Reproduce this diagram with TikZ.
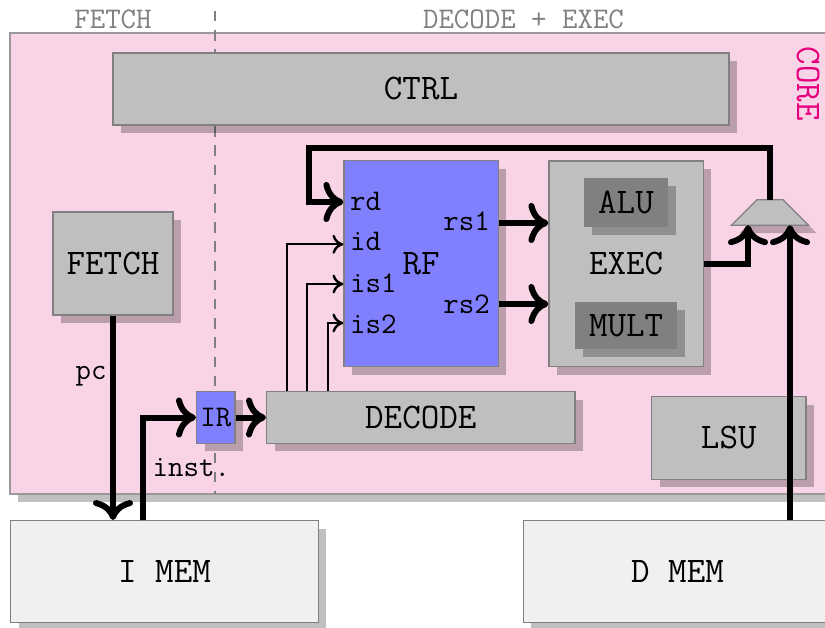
\documentclass[tikz,border=0pt]{standalone}
\usepackage{fontspec}
\usetikzlibrary{shadows,arrows.meta}
\definecolor{corefill}{RGB}{249,212,230}
\definecolor{corelabel}{RGB}{230,0,128}
\definecolor{memfill}{RGB}{240,240,240}
\newcommand\bigfnt{\ttfamily\fontsize{36}{40}\selectfont}
\newcommand\smlfnt{\ttfamily\fontsize{30}{34}\selectfont}
\begin{document}
\begin{tikzpicture}[x=1pt,y=-1pt,
  shd/.style={drop shadow={shadow xshift=8pt,shadow yshift=-8pt,fill=black,opacity=0.25}},
  blk/.style={draw=gray,line width=1.3pt,fill=gray!50,inner sep=0pt,font=\bigfnt,shd,anchor=center},
  lbl/.style={font=\smlfnt,inner sep=0pt},
  bigarr/.style={line width=6pt,-{Computer Modern Rightarrow[length=20pt,width=40pt]}},
  smlarr/.style={line width=2.4pt,-{Computer Modern Rightarrow[length=11pt,width=19pt]}}
]
\useasboundingbox (0,0) rectangle (825,628);
% core
\node[draw=gray!80,line width=1.3pt,fill=corefill,shd,inner sep=0pt,minimum width=822pt,minimum height=461pt] (core) at (421,263.5) {};
\node[text=corelabel,font=\bigfnt,rotate=-90,inner sep=0pt] (corelbl) at (808,84) {CORE};
\node[text=gray,lbl] (hfetch) at (113,19) {FETCH};
\node[text=gray,lbl] (hexec) at (523.5,19) {DECODE + EXEC};
% stage separator
\coordinate (dtop) at (215,11);
\coordinate (dbot) at (215,494);
\draw[gray,line width=2.6pt,dash pattern=on 10.5pt off 8.7pt] (dtop) -- (dbot);
% blocks
\node[blk,minimum width=616pt,minimum height=72pt] (ctrl) at (421,89) {CTRL};
\node[blk,minimum width=120pt,minimum height=103pt] (fetch) at (113,263.5) {FETCH};
\node[blk,fill=blue!50,minimum width=154.3pt,minimum height=206pt] (rf) at (421.2,263.7) {RF};
\node[blk,minimum width=154.3pt,minimum height=205.7pt] (exec) at (626.2,263.8) {EXEC};
\node[blk,draw=none,fill=gray,minimum width=83.4pt,minimum height=48.4pt] (alu) at (626,202.5) {ALU};
\node[blk,draw=none,fill=gray,minimum width=102.3pt,minimum height=47.6pt] (mult) at (626.2,325.5) {MULT};
\node[blk,fill=blue!50,font=\smlfnt,minimum width=38.3pt,minimum height=51.6pt] (ir) at (215.8,417.5) {IR};
\node[blk,minimum width=308.3pt,minimum height=51.6pt] (decode) at (420.8,417.5) {DECODE};
\node[blk,minimum width=154.3pt,minimum height=82.6pt] (lsu) at (728.8,438) {LSU};
\node[blk,fill=memfill,minimum width=307.6pt,minimum height=102pt] (imem) at (164.5,571.7) {I MEM};
\node[blk,fill=memfill,minimum width=308.3pt,minimum height=102pt] (dmem) at (677.5,571.7) {D MEM};
% multiplexer (trapezoid)
\node[inner sep=0pt,minimum width=76.6pt,minimum height=25pt] (mux) at (770,212.5) {};
\draw[draw=gray,line width=1.3pt,fill=gray!50,shd] (mux.south west) -- ([xshift=-13pt]mux.north) -- ([xshift=13pt]mux.north) -- (mux.south east) -- cycle;
% RF port labels
\node[lbl,anchor=base west] (rd) at (350,211) {rd};
\node[lbl,anchor=base west] (id) at (350,251) {id};
\node[lbl,anchor=base west] (is1) at (350,292.7) {is1};
\node[lbl,anchor=base west] (is2) at (350,333.3) {is2};
\node[lbl,anchor=base east] (rs1) at (490,231) {rs1};
\node[lbl,anchor=base east] (rs2) at (490,314) {rs2};
\node[lbl] (pc) at (91,376) {pc};
\node[lbl,anchor=base west] (inst) at (152.5,476.7) {inst.};
% helper coordinates
\coordinate (ipt) at (143.3,0);
\coordinate (dx1) at (287,0);
\coordinate (dx2) at (307,0);
\coordinate (dx3) at (328,0);
\coordinate (yrd) at (0,202);
\coordinate (yid) at (0,244.3);
\coordinate (yis1) at (0,284);
\coordinate (yis2) at (0,323);
\coordinate (yrs1) at (0,223);
\coordinate (yrs2) at (0,304);
\coordinate (yloop) at (309,148);
\coordinate (m1) at (748,0);
\coordinate (m2) at (790,0);
% connectors
\draw[bigarr] (fetch.south) -- (fetch.south |- imem.north);
\draw[bigarr] (imem.north -| ipt) |- (ir.west);
\draw[bigarr] (ir.east) -- (decode.west);
\draw[smlarr] (decode.north -| dx1) |- (rf.west |- yid);
\draw[smlarr] (decode.north -| dx2) |- (rf.west |- yis1);
\draw[smlarr] (decode.north -| dx3) |- (rf.west |- yis2);
\draw[bigarr] (rf.east |- yrs1) -- (exec.west |- yrs1);
\draw[bigarr] (rf.east |- yrs2) -- (exec.west |- yrs2);
\draw[bigarr] (exec.east) -| (mux.south -| m1);
\draw[bigarr] (dmem.north -| m2) -- (mux.south -| m2);
\draw[bigarr] (mux.north) |- (yloop) |- (rf.west |- yrd);
\end{tikzpicture}
\end{document}
